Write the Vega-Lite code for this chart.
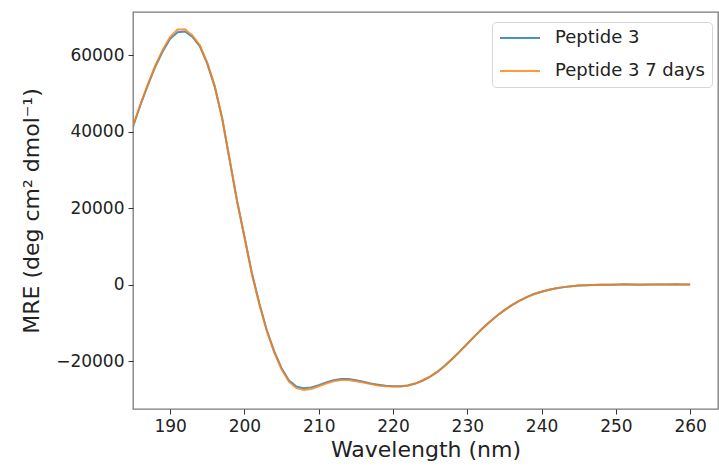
{
  "$schema": "https://vega.github.io/schema/vega-lite/v6.json",
  "width": 585,
  "height": 397,
  "autosize": {"type": "none"},
  "padding": {"left": 133, "top": 12, "right": 1, "bottom": 59},
  "config": {
    "font": "DejaVu Sans",
    "view": {"stroke": "#7a7a7a", "strokeWidth": 1.3},
    "axis": {
      "domain": false,
      "grid": false,
      "tickColor": "#333",
      "tickSize": 5,
      "tickWidth": 1,
      "labelFont": "DejaVu Sans",
      "labelFontSize": 17,
      "labelColor": "#222",
      "labelPadding": 4,
      "titleFont": "DejaVu Sans",
      "titleFontSize": 22,
      "titleFontWeight": "normal",
      "titleColor": "#222"
    }
  },
  "datasets": {
    "cd": [
      {"series": "Peptide 3", "wl": 185, "mre": 41300}, {"series": "Peptide 3", "wl": 186, "mre": 47000}, {"series": "Peptide 3", "wl": 187, "mre": 52200}, {"series": "Peptide 3", "wl": 188, "mre": 57000}, {"series": "Peptide 3", "wl": 189, "mre": 61000}, {"series": "Peptide 3", "wl": 190, "mre": 64300}, {"series": "Peptide 3", "wl": 191, "mre": 66000}, {"series": "Peptide 3", "wl": 192, "mre": 66200}, {"series": "Peptide 3", "wl": 193, "mre": 64800}, {"series": "Peptide 3", "wl": 194, "mre": 62300}, {"series": "Peptide 3", "wl": 195, "mre": 57800}, {"series": "Peptide 3", "wl": 196, "mre": 51800}, {"series": "Peptide 3", "wl": 197, "mre": 43500}, {"series": "Peptide 3", "wl": 198, "mre": 32800}, {"series": "Peptide 3", "wl": 199, "mre": 22000}, {"series": "Peptide 3", "wl": 200, "mre": 12600}, {"series": "Peptide 3", "wl": 201, "mre": 3100}, {"series": "Peptide 3", "wl": 202, "mre": -4800}, {"series": "Peptide 3", "wl": 203, "mre": -11800}, {"series": "Peptide 3", "wl": 204, "mre": -17300}, {"series": "Peptide 3", "wl": 205, "mre": -21800}, {"series": "Peptide 3", "wl": 206, "mre": -25000}, {"series": "Peptide 3", "wl": 207, "mre": -26600}, {"series": "Peptide 3", "wl": 208, "mre": -27000}, {"series": "Peptide 3", "wl": 209, "mre": -26800}, {"series": "Peptide 3", "wl": 210, "mre": -26200}, {"series": "Peptide 3", "wl": 211, "mre": -25500}, {"series": "Peptide 3", "wl": 212, "mre": -24900}, {"series": "Peptide 3", "wl": 213, "mre": -24600}, {"series": "Peptide 3", "wl": 214, "mre": -24600}, {"series": "Peptide 3", "wl": 215, "mre": -24900}, {"series": "Peptide 3", "wl": 216, "mre": -25300}, {"series": "Peptide 3", "wl": 217, "mre": -25800}, {"series": "Peptide 3", "wl": 218, "mre": -26100}, {"series": "Peptide 3", "wl": 219, "mre": -26400}, {"series": "Peptide 3", "wl": 220, "mre": -26500}, {"series": "Peptide 3", "wl": 221, "mre": -26500}, {"series": "Peptide 3", "wl": 222, "mre": -26300}, {"series": "Peptide 3", "wl": 223, "mre": -25800}, {"series": "Peptide 3", "wl": 224, "mre": -25000}, {"series": "Peptide 3", "wl": 225, "mre": -24000}, {"series": "Peptide 3", "wl": 226, "mre": -22700}, {"series": "Peptide 3", "wl": 227, "mre": -21100}, {"series": "Peptide 3", "wl": 228, "mre": -19300}, {"series": "Peptide 3", "wl": 229, "mre": -17400}, {"series": "Peptide 3", "wl": 230, "mre": -15400}, {"series": "Peptide 3", "wl": 231, "mre": -13400}, {"series": "Peptide 3", "wl": 232, "mre": -11500}, {"series": "Peptide 3", "wl": 233, "mre": -9700}, {"series": "Peptide 3", "wl": 234, "mre": -8100}, {"series": "Peptide 3", "wl": 235, "mre": -6600}, {"series": "Peptide 3", "wl": 236, "mre": -5300}, {"series": "Peptide 3", "wl": 237, "mre": -4200}, {"series": "Peptide 3", "wl": 238, "mre": -3200}, {"series": "Peptide 3", "wl": 239, "mre": -2400}, {"series": "Peptide 3", "wl": 240, "mre": -1800}, {"series": "Peptide 3", "wl": 241, "mre": -1300}, {"series": "Peptide 3", "wl": 242, "mre": -900}, {"series": "Peptide 3", "wl": 243, "mre": -600}, {"series": "Peptide 3", "wl": 244, "mre": -350}, {"series": "Peptide 3", "wl": 245, "mre": -200}, {"series": "Peptide 3", "wl": 246, "mre": -100}, {"series": "Peptide 3", "wl": 247, "mre": -50}, {"series": "Peptide 3", "wl": 248, "mre": 0}, {"series": "Peptide 3", "wl": 249, "mre": 20}, {"series": "Peptide 3", "wl": 250, "mre": 50}, {"series": "Peptide 3", "wl": 251, "mre": 120}, {"series": "Peptide 3", "wl": 252, "mre": 60}, {"series": "Peptide 3", "wl": 253, "mre": 40}, {"series": "Peptide 3", "wl": 254, "mre": 80}, {"series": "Peptide 3", "wl": 255, "mre": 100}, {"series": "Peptide 3", "wl": 256, "mre": 60}, {"series": "Peptide 3", "wl": 257, "mre": 90}, {"series": "Peptide 3", "wl": 258, "mre": 120}, {"series": "Peptide 3", "wl": 259, "mre": 80}, {"series": "Peptide 3", "wl": 260, "mre": 100},
      {"series": "Peptide 3 7 days", "wl": 185, "mre": 41500}, {"series": "Peptide 3 7 days", "wl": 186, "mre": 47200}, {"series": "Peptide 3 7 days", "wl": 187, "mre": 52400}, {"series": "Peptide 3 7 days", "wl": 188, "mre": 57300}, {"series": "Peptide 3 7 days", "wl": 189, "mre": 61400}, {"series": "Peptide 3 7 days", "wl": 190, "mre": 64800}, {"series": "Peptide 3 7 days", "wl": 191, "mre": 66700}, {"series": "Peptide 3 7 days", "wl": 192, "mre": 66800}, {"series": "Peptide 3 7 days", "wl": 193, "mre": 65200}, {"series": "Peptide 3 7 days", "wl": 194, "mre": 62600}, {"series": "Peptide 3 7 days", "wl": 195, "mre": 58000}, {"series": "Peptide 3 7 days", "wl": 196, "mre": 52000}, {"series": "Peptide 3 7 days", "wl": 197, "mre": 43600}, {"series": "Peptide 3 7 days", "wl": 198, "mre": 32800}, {"series": "Peptide 3 7 days", "wl": 199, "mre": 22000}, {"series": "Peptide 3 7 days", "wl": 200, "mre": 12500}, {"series": "Peptide 3 7 days", "wl": 201, "mre": 2900}, {"series": "Peptide 3 7 days", "wl": 202, "mre": -5000}, {"series": "Peptide 3 7 days", "wl": 203, "mre": -12000}, {"series": "Peptide 3 7 days", "wl": 204, "mre": -17600}, {"series": "Peptide 3 7 days", "wl": 205, "mre": -22100}, {"series": "Peptide 3 7 days", "wl": 206, "mre": -25300}, {"series": "Peptide 3 7 days", "wl": 207, "mre": -27000}, {"series": "Peptide 3 7 days", "wl": 208, "mre": -27500}, {"series": "Peptide 3 7 days", "wl": 209, "mre": -27200}, {"series": "Peptide 3 7 days", "wl": 210, "mre": -26500}, {"series": "Peptide 3 7 days", "wl": 211, "mre": -25800}, {"series": "Peptide 3 7 days", "wl": 212, "mre": -25200}, {"series": "Peptide 3 7 days", "wl": 213, "mre": -24900}, {"series": "Peptide 3 7 days", "wl": 214, "mre": -24900}, {"series": "Peptide 3 7 days", "wl": 215, "mre": -25200}, {"series": "Peptide 3 7 days", "wl": 216, "mre": -25500}, {"series": "Peptide 3 7 days", "wl": 217, "mre": -25900}, {"series": "Peptide 3 7 days", "wl": 218, "mre": -26300}, {"series": "Peptide 3 7 days", "wl": 219, "mre": -26500}, {"series": "Peptide 3 7 days", "wl": 220, "mre": -26600}, {"series": "Peptide 3 7 days", "wl": 221, "mre": -26600}, {"series": "Peptide 3 7 days", "wl": 222, "mre": -26300}, {"series": "Peptide 3 7 days", "wl": 223, "mre": -25800}, {"series": "Peptide 3 7 days", "wl": 224, "mre": -25000}, {"series": "Peptide 3 7 days", "wl": 225, "mre": -24000}, {"series": "Peptide 3 7 days", "wl": 226, "mre": -22700}, {"series": "Peptide 3 7 days", "wl": 227, "mre": -21100}, {"series": "Peptide 3 7 days", "wl": 228, "mre": -19300}, {"series": "Peptide 3 7 days", "wl": 229, "mre": -17400}, {"series": "Peptide 3 7 days", "wl": 230, "mre": -15400}, {"series": "Peptide 3 7 days", "wl": 231, "mre": -13400}, {"series": "Peptide 3 7 days", "wl": 232, "mre": -11500}, {"series": "Peptide 3 7 days", "wl": 233, "mre": -9700}, {"series": "Peptide 3 7 days", "wl": 234, "mre": -8100}, {"series": "Peptide 3 7 days", "wl": 235, "mre": -6600}, {"series": "Peptide 3 7 days", "wl": 236, "mre": -5300}, {"series": "Peptide 3 7 days", "wl": 237, "mre": -4200}, {"series": "Peptide 3 7 days", "wl": 238, "mre": -3200}, {"series": "Peptide 3 7 days", "wl": 239, "mre": -2400}, {"series": "Peptide 3 7 days", "wl": 240, "mre": -1800}, {"series": "Peptide 3 7 days", "wl": 241, "mre": -1300}, {"series": "Peptide 3 7 days", "wl": 242, "mre": -900}, {"series": "Peptide 3 7 days", "wl": 243, "mre": -600}, {"series": "Peptide 3 7 days", "wl": 244, "mre": -350}, {"series": "Peptide 3 7 days", "wl": 245, "mre": -200}, {"series": "Peptide 3 7 days", "wl": 246, "mre": -100}, {"series": "Peptide 3 7 days", "wl": 247, "mre": -40}, {"series": "Peptide 3 7 days", "wl": 248, "mre": 10}, {"series": "Peptide 3 7 days", "wl": 249, "mre": 40}, {"series": "Peptide 3 7 days", "wl": 250, "mre": 80}, {"series": "Peptide 3 7 days", "wl": 251, "mre": 60}, {"series": "Peptide 3 7 days", "wl": 252, "mre": 90}, {"series": "Peptide 3 7 days", "wl": 253, "mre": 70}, {"series": "Peptide 3 7 days", "wl": 254, "mre": 50}, {"series": "Peptide 3 7 days", "wl": 255, "mre": 80}, {"series": "Peptide 3 7 days", "wl": 256, "mre": 110}, {"series": "Peptide 3 7 days", "wl": 257, "mre": 70}, {"series": "Peptide 3 7 days", "wl": 258, "mre": 60}, {"series": "Peptide 3 7 days", "wl": 259, "mre": 90}, {"series": "Peptide 3 7 days", "wl": 260, "mre": 70}
    ]
  },
  "data": {"name": "cd"},
  "mark": {"type": "line", "strokeWidth": 2, "opacity": 0.8, "clip": true},
  "encoding": {
    "x": {
      "field": "wl",
      "type": "quantitative",
      "scale": {"domain": [185, 263.75], "nice": false, "zero": false},
      "axis": {"values": [190, 200, 210, 220, 230, 240, 250, 260], "title": "Wavelength (nm)", "titlePadding": 5}
    },
    "y": {
      "field": "mre",
      "type": "quantitative",
      "scale": {"domain": [-32450, 71300], "nice": false, "zero": false},
      "axis": {"values": [-20000, 0, 20000, 40000, 60000], "format": "d", "labelExpr": "replace(datum.label, '-', '−')", "title": "MRE (deg cm² dmol⁻¹)", "titlePadding": 12}
    },
    "color": {
      "field": "series",
      "type": "nominal",
      "scale": {"domain": ["Peptide 3", "Peptide 3 7 days"], "range": ["#1f77b4", "#ff7f0e"]},
      "legend": {
        "orient": "none",
        "legendX": 359,
        "legendY": 10,
        "title": null,
        "symbolType": "stroke",
        "symbolSize": 1600,
        "symbolStrokeWidth": 2,
        "symbolOpacity": 0.8,
        "clipHeight": 18,
        "rowPadding": 15,
        "labelFont": "DejaVu Sans",
        "labelFontSize": 18,
        "labelColor": "#222",
        "labelOffset": 14,
        "padding": 7,
        "strokeColor": "#d6d6d6",
        "fillColor": "white",
        "cornerRadius": 4
      }
    }
  }
}
